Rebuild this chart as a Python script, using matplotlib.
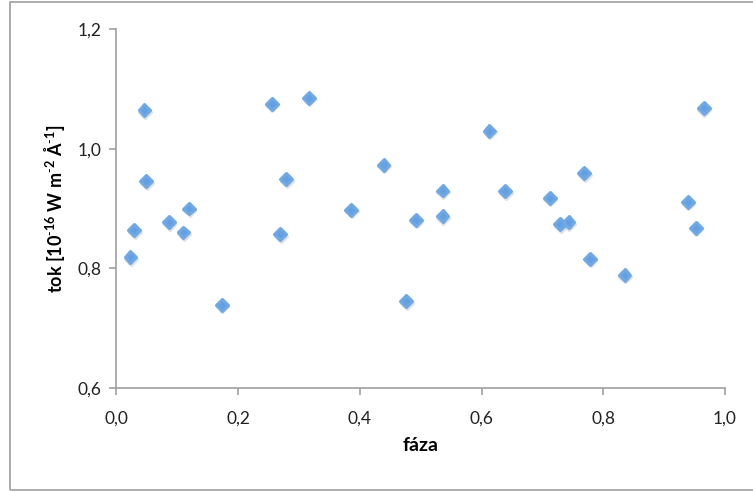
import matplotlib
matplotlib.use("Agg")
import matplotlib.pyplot as plt
import matplotlib.patheffects as pe
from matplotlib.markers import MarkerStyle
from matplotlib.patches import Rectangle
from matplotlib.ticker import FuncFormatter

# phase and flux
faza = [0.023, 0.029, 0.046, 0.049, 0.086, 0.110, 0.119, 0.173, 0.255, 0.269,
        0.279, 0.316, 0.386, 0.439, 0.476, 0.492, 0.536, 0.536, 0.613, 0.639,
        0.712, 0.729, 0.743, 0.769, 0.778, 0.835, 0.939, 0.952, 0.965]
tok = [0.819, 0.864, 1.064, 0.946, 0.877, 0.860, 0.900, 0.739, 1.075, 0.857,
       0.949, 1.085, 0.898, 0.973, 0.745, 0.881, 0.930, 0.887, 1.030, 0.929,
       0.918, 0.874, 0.877, 0.959, 0.816, 0.789, 0.911, 0.868, 1.068]

xticks = [0.0, 0.2, 0.4, 0.6, 0.8, 1.0]
yticks = [0.6, 0.8, 1.0, 1.2]

plt.rcParams['font.family'] = ['Lato', 'DejaVu Sans']
plt.rcParams['mathtext.fontset'] = 'custom'
plt.rcParams['mathtext.rm'] = 'Lato'
plt.rcParams['mathtext.bf'] = 'Lato:bold'

fig = plt.figure(figsize=(7.53, 4.91), dpi=100)
ax = fig.add_axes([0.1547, 0.2098, 0.808, 0.7311])

# outer chart frame
fig.patches.append(Rectangle((10 / 753, 1 / 491), 1.0, 488 / 491, transform=fig.transFigure,
                             fill=False, edgecolor='#a6a6a6', linewidth=1.3))

diamond = MarkerStyle('D', joinstyle='round')
ax.plot(faza, tok, linestyle='none', marker=diamond, markersize=6,
        markerfacecolor='#62a0e2', markeredgecolor='#6ea8e6', markeredgewidth=2.2,
        path_effects=[pe.SimpleLineShadow(offset=(0.5, -1.2), shadow_color='#999999', alpha=0.3),
                      pe.Normal()])

ax.set_xlim(0, 1.0)
ax.set_ylim(0.6, 1.2)
ax.set_xticks(xticks)
ax.set_yticks(yticks)
comma = FuncFormatter(lambda v, p: f"{v:.1f}".replace('.', ','))
ax.xaxis.set_major_formatter(comma)
ax.yaxis.set_major_formatter(comma)

for s in ['top', 'right']:
    ax.spines[s].set_visible(False)
for s in ['left', 'bottom']:
    ax.spines[s].set_color('#a0a0a0')
    ax.spines[s].set_linewidth(1.2)
ax.tick_params(direction='out', length=5, width=1.2, color='#a0a0a0',
               labelsize=12.5, labelcolor='#222222')
ax.tick_params(axis='x', pad=11)
ax.tick_params(axis='y', pad=6)

ax.set_xlabel('fáza', fontsize=14, fontweight='bold', labelpad=8)
ax.set_ylabel(r'tok [10$^{\mathbf{\text{-}16}}$ W m$^{\mathbf{\text{-}2}}$ Å$^{\mathbf{\text{-}1}}$]',
              fontsize=13, fontweight='bold', labelpad=7)

fig.savefig('out.png', dpi=100)
